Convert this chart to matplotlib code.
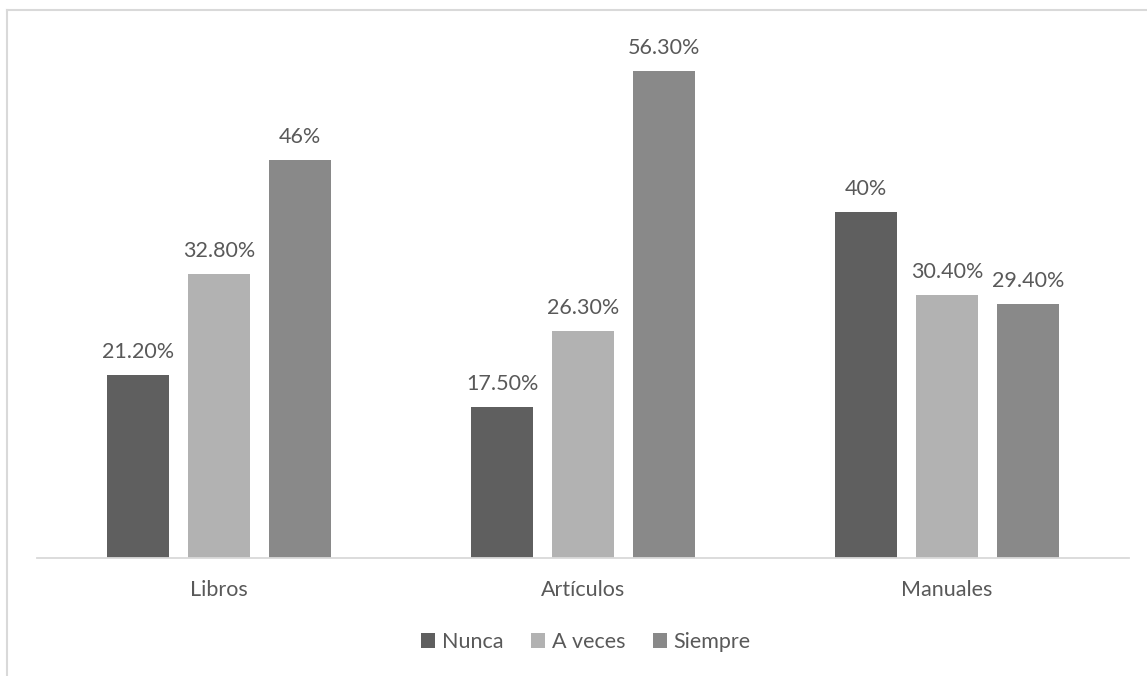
import matplotlib.pyplot as plt
import numpy as np
from matplotlib.lines import Line2D

categories = ['Libros', 'Artículos', 'Manuales']
series = ['Nunca', 'A veces', 'Siempre']
nunca = [21.2, 17.5, 40.0]
a_veces = [32.8, 26.3, 30.4]
siempre = [46.0, 56.3, 29.4]
labels = [['21.20%', '17.50%', '40%'],
          ['32.80%', '26.30%', '30.40%'],
          ['46%', '56.30%', '29.40%']]
colors = ['#5f5f5f', '#b2b2b2', '#898989']
text_color = '#595959'

plt.rcParams['font.family'] = ['Lato', 'DejaVu Sans']

fig = plt.figure(figsize=(11.47, 6.76), dpi=100)
ax = fig.add_axes([37 / 1147, 118 / 676, 1092 / 1147, 519 / 676])

x = np.arange(len(categories))
width = 0.173
step = 0.2225
values = [nunca, a_veces, siempre]
for i, (vals, name) in enumerate(zip(values, series)):
    pos = x + (i - 1) * step
    ax.bar(pos, vals, width, color=colors[i], label=name)
    for p, v, lab in zip(pos, vals, labels[i]):
        ax.text(p, v + 1.5, lab, ha='center', va='bottom', fontsize=15.5, color=text_color)

ax.set_xlim(-0.5, 2.5)
ax.set_ylim(0, 60)
ax.set_yticks([])
ax.set_xticks(x)
ax.set_xticklabels(categories, fontsize=15.5, color=text_color)
ax.tick_params(axis='x', length=0, pad=16)
for s in ['top', 'right', 'left']:
    ax.spines[s].set_visible(False)
ax.spines['bottom'].set_color('#d9d9d9')
ax.spines['bottom'].set_linewidth(1.3)

ax.legend(loc='center', bbox_to_anchor=(586 / 1147, 34 / 676), bbox_transform=fig.transFigure,
          ncol=3, frameon=False, fontsize=15.5, handlelength=0.65, handleheight=0.65,
          handletextpad=0.3, columnspacing=1.3, labelcolor=text_color)

# chart border (top and left edges visible)
fig.add_artist(Line2D([6.5 / 1147, 1.0], [1 - 10 / 676, 1 - 10 / 676], transform=fig.transFigure,
                      color='#d9d9d9', lw=1.5))
fig.add_artist(Line2D([6.5 / 1147, 6.5 / 1147], [0, 1 - 10 / 676], transform=fig.transFigure,
                      color='#d9d9d9', lw=1.5))

fig.savefig('out.png', dpi=100)
